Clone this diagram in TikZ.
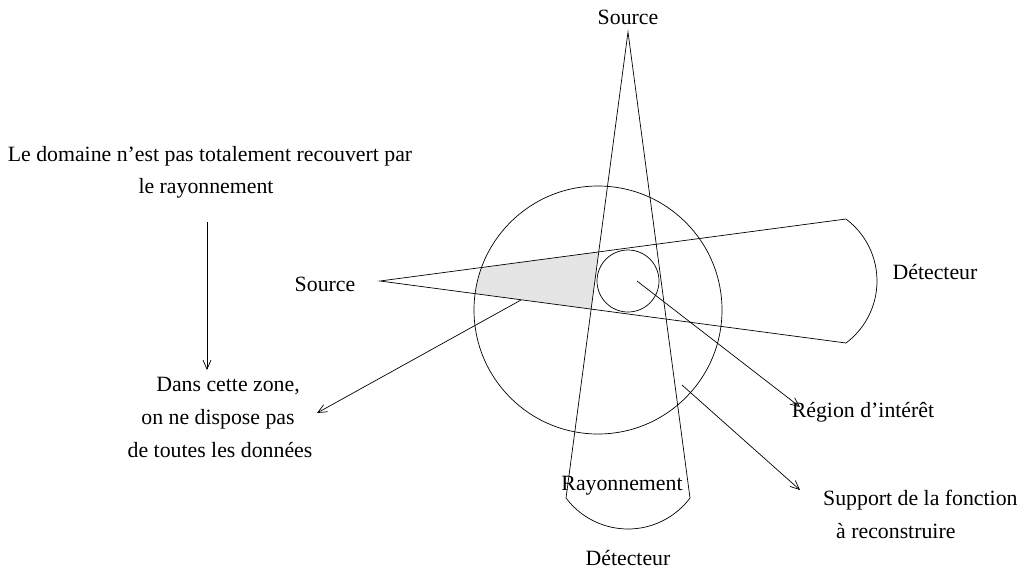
\documentclass[tikz,border=0pt]{standalone}
\usepackage{fontspec}
\setmainfont{Liberation Serif}
\usetikzlibrary{arrows.meta}
\tikzset{
    >={Straight Barb[length=9pt,width=8pt]},
    txt/.style={
        inner sep=0pt,
        anchor=base,
        font={\fontsize{21.8pt}{26pt}\selectfont}
    },
    trait/.style={draw, line width=0.7pt},
    fleche/.style={draw, line width=0.7pt, ->},
    zone/.style={fill=black!10},
}

\begin{document}
\begin{tikzpicture}[x=1pt, y=-1pt]
\useasboundingbox (0,0) rectangle (1034,574);
% points of the two fans
\coordinate (hsrc) at (380,281);
\coordinate (hup) at (846,219);
\coordinate (hdown) at (846,343);
\coordinate (vsrc) at (628,32);
\coordinate (vleft) at (566,498);
\coordinate (vright) at (690,498);
\coordinate (centre) at (598,310);
\coordinate (roi) at (628,281);
% grey zone
\begin{scope}
\clip (hsrc) -- (hup) -- (hdown) -- cycle;
\clip (centre) circle[radius=124pt];
\fill[zone] (vsrc) -- (vleft) -- (380,498) -- (380,32) -- cycle;
\end{scope}
% support and region of interest
\draw[trait] (centre) circle[radius=124pt];
\draw[trait] (roi) circle[radius=31pt];
% fans with detectors
\draw[trait] (hsrc) -- (hup) arc[start angle=53.13, end angle=-53.13, radius=77.5pt] -- cycle;
\draw[trait] (vsrc) -- (vleft) arc[start angle=216.87, end angle=323.13, radius=77.5pt] -- cycle;
% texts
\node[txt] (src1) at (628,24){Source};
\node[txt] (src2) at (325,291){Source};
\node[txt] (det1) at (935,279){Détecteur};
\node[txt] (det2) at (628,565){Détecteur};
\node[txt] (rayon) at (622,490){Rayonnement};
\node[txt] (dom1) at (210,161){Le domaine n’est pas totalement recouvert par};
\node[txt] (dom2) at (206,193){le rayonnement};
\node[txt] (dans1) at (228,391){Dans cette zone,};
\node[txt] (dans2) at (218,424){on ne dispose pas};
\node[txt] (dans3) at (220,457){de toutes les données};
\node[txt] (region) at (863,417){Région d’intérêt};
\node[txt, anchor=base west] (supp1) at (823,505){Support de la fonction};
\node[txt, anchor=base west] (supp2) at (836,538){à reconstruire};
% arrows
\coordinate (domtop) at (207,222);
\coordinate (domtip) at (207,370);
\coordinate (zonept) at (521,300);
\coordinate (zonetip) at (317,413);
\coordinate (roipt) at (637,281);
\coordinate (roitip) at (800,407);
\coordinate (supppt) at (682,385);
\coordinate (supptip) at (800,490);
\draw[fleche] (domtop) -- (domtip);
\draw[fleche] (zonept) -- (zonetip);
\draw[fleche] (roipt) -- (roitip);
\draw[fleche] (supppt) -- (supptip);
\end{tikzpicture}
\end{document}
